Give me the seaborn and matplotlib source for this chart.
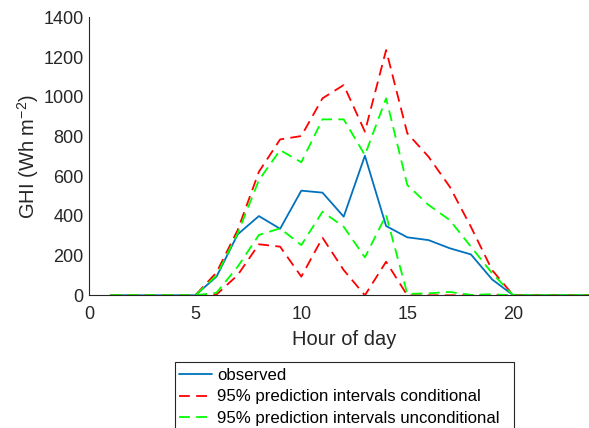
import numpy as np
import pandas as pd
import seaborn as sns
import matplotlib.pyplot as plt
from matplotlib.patches import Rectangle

hours = list(range(1, 25))
observed = [0, 0, 0, 0, 0, 94, 307, 399, 335, 527, 517, 396, 703, 349,
            292, 278, 237, 206, 80, 0, 0, 0, 0, 0]
cond_upper = [0, 0, 0, 0, 0, 115, 329, 622, 785, 802, 992, 1059, 824, 1235,
              816, 698, 547, 345, 127, 0, 0, 0, 0, 0]
cond_lower = [0, 0, 0, 0, 0, 4, 102, 257, 245, 94, 290, 127, 0, 169,
              0, 0, 0, 0, 0, 0, 0, 0, 0, 0]
uncond_upper = [0, 0, 0, 0, 0, 100, 312, 580, 731, 670, 886, 886, 706, 992,
                555, 455, 379, 245, 111, 0, 0, 0, 0, 0]
uncond_lower = [0, 0, 0, 0, 0, 13, 144, 304, 337, 253, 421, 345, 191, 404,
                7, 10, 17, 2, 5, 0, 0, 0, 0, 0]

sns.set_style("white")
plt.rcParams['font.family'] = ['Liberation Sans', 'DejaVu Sans']
plt.rcParams['mathtext.fontset'] = 'custom'
plt.rcParams['mathtext.rm'] = 'Liberation Sans'

grey = '#262626'
blue = '#0072BD'
dash = (0, (6, 3.5))
W, H = 589, 428

fig = plt.figure(figsize=(5.89, 4.28), dpi=100)
ax = fig.add_axes([89.3 / W, 1 - 295.3 / H, 508.8 / W, 278 / H])

df = pd.DataFrame({'hour': hours, 'observed': observed,
                   'cu': cond_upper, 'cl': cond_lower,
                   'uu': uncond_upper, 'ul': uncond_lower})

sns.lineplot(data=df, x='hour', y='observed', ax=ax, color=blue, lw=1.3,
             label='observed')
sns.lineplot(data=df, x='hour', y='cu', ax=ax, color='#FF0000', lw=1.3,
             linestyle=dash, label='95% prediction intervals conditional')
sns.lineplot(data=df, x='hour', y='cl', ax=ax, color='#FF0000', lw=1.3,
             linestyle=dash)
sns.lineplot(data=df, x='hour', y='uu', ax=ax, color='#00FF00', lw=1.3,
             linestyle=dash, label='95% prediction intervals unconditional')
sns.lineplot(data=df, x='hour', y='ul', ax=ax, color='#00FF00', lw=1.3,
             linestyle=dash)

ax.set_xlim(0, 24)
ax.set_ylim(0, 1400)
ax.set_xticks([0, 5, 10, 15, 20])
ax.set_yticks(np.arange(0, 1401, 200))
ax.set_xlabel('Hour of day', fontsize=14.5, color=grey, labelpad=5)
ax.set_ylabel('GHI (Wh m$^{-2}$)', fontsize=14.5, color=grey, labelpad=2)
ax.tick_params(axis='x', pad=7.5)
ax.tick_params(axis='y', pad=4)
ax.tick_params(direction='in', length=4, width=0.8, colors=grey,
               labelsize=13)
for s in ['top', 'right']:
    ax.spines[s].set_visible(False)
for s in ['left', 'bottom']:
    ax.spines[s].set_color(grey)
    ax.spines[s].set_linewidth(0.8)

ax.get_legend().remove()
h, l = ax.get_legend_handles_labels()
leg = fig.legend(h, l, loc='upper left', bbox_to_anchor=(177 / W, 1 - 366 / H),
                 fontsize=12.1, frameon=False, handlelength=2.0,
                 handletextpad=0.3, borderpad=0.1, labelspacing=0.4,
                 borderaxespad=0)
for t in leg.get_texts():
    t.set_color('black')

# legend box, cut by the bottom edge of the figure as in the original
fig.patches.append(Rectangle((175 / W, -0.05), (514 - 175) / W, 0.05 + 1 - 362 / H,
                             transform=fig.transFigure, fill=False,
                             edgecolor=grey, linewidth=0.8))

fig.savefig('out.png', dpi=100)
